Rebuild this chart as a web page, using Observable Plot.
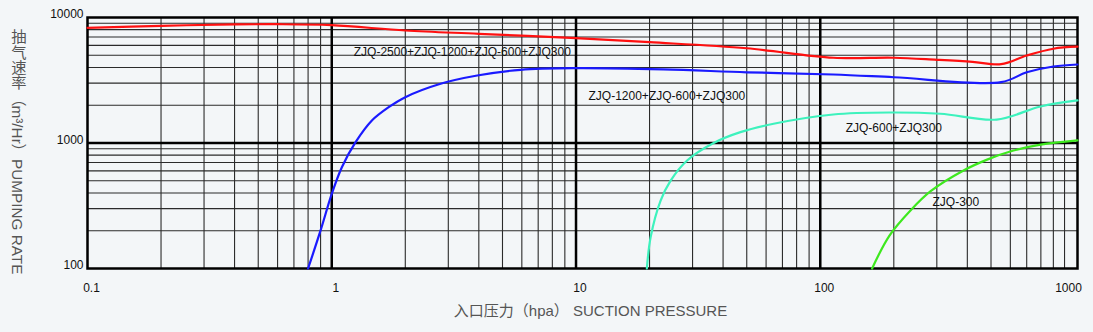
<!DOCTYPE html>
<html><head><meta charset="utf-8">
<script src="https://cdn.jsdelivr.net/npm/d3@7"></script>
<script src="https://cdn.jsdelivr.net/npm/@observablehq/plot@0.6"></script>
<style>
html,body{margin:0;padding:0;background:#f3f6f8;}
#chart{position:relative;width:1093px;height:332px;}
#ytitle{position:absolute;left:9px;top:29px;writing-mode:vertical-rl;font-family:Arial,'Liberation Sans','Noto Sans CJK SC',sans-serif;font-size:15.3px;line-height:17px;color:#555;white-space:nowrap;}
</style></head><body><div id="chart"></div>
<script>
// Axis ticks
const xTickValues = [0.1, 1, 10, 100, 1000];
const xTickLabels = ["0.1", "1", "10", "100", "1000"];
const yTickValues = [100, 1000, 10000];
const yTickLabels = ["100", "1000", "10000"];
const xTitle = "入口压力（hpa） SUCTION PRESSURE";
const yTitle = "抽气速率（m³/Hr）PUMPING RATE";

// Series: suction pressure (hPa) vs pumping rate (m³/h)
const seriesNames = ["ZJQ-2500+ZJQ-1200+ZJQ-600+ZJQ300", "ZJQ-1200+ZJQ-600+ZJQ300", "ZJQ-600+ZJQ300", "ZJQ-300"];
const redX = [0.1, 0.2, 0.4, 0.6, 1, 2, 4, 10, 20, 50, 113, 200, 300, 420, 550, 700, 900, 1130];
const redY = [8280, 8590, 8800, 8840, 8680, 7880, 7410, 6840, 6360, 5690, 4780, 4780, 4600, 4430, 4250, 4980, 5640, 5850];
const blueX = [0.8, 0.9, 1.0, 1.1, 1.25, 1.46, 1.71, 2.0, 2.79, 3.94, 5.93, 10, 22.8, 50, 113, 200, 550, 700, 900, 1130];
const blueY = [100, 201, 393, 641, 1010, 1510, 1928, 2318, 2965, 3450, 3830, 3945, 3855, 3660, 3515, 3340, 3052, 3660, 4070, 4222];
const cyanX = [19.5, 20.2, 22.2, 24.4, 28.5, 36.6, 47.1, 64.4, 113, 192, 310, 527, 798, 1130];
const cyanY = [100, 177, 348, 502, 726, 1000, 1220, 1423, 1687, 1750, 1710, 1537, 1955, 2183];
const greenX = [163, 192, 234, 283, 386, 482, 618, 798, 1130];
const greenY = [100, 183, 290, 413, 604, 737, 871, 972, 1050];
const seriesColors = ["#ff1010", "#1a1aff", "#3df2bd", "#3ee81f"];

// Curve label anchors (data units)
const labelX = [1.23, 11.25, 127, 288];
const labelY = [5260, 2347, 1305, 336];

const toRows = (xs, ys) => xs.map((x, i) => ({x, y: ys[i]}));
const seriesRows = [toRows(redX, redY), toRows(blueX, blueY), toRows(cyanX, cyanY), toRows(greenX, greenY)];

// grid values (1..9 per decade)
const xMinor = [];
for (const d of [0.1, 1, 10, 100]) for (let k = 1; k <= 9; k++) xMinor.push(+(k * d).toPrecision(3));
xMinor.push(1000);
const yMinor = [];
for (const d of [100, 1000]) for (let k = 1; k <= 9; k++) yMinor.push(k * d);
const xMajor = [1, 10, 100];
const yMajor = [1000];

const font = "Arial, 'Liberation Sans', Helvetica, 'Noto Sans CJK SC', sans-serif";

const plot = Plot.plot({
  width: 1093, height: 332,
  marginLeft: 87, marginRight: 16, marginTop: 17, marginBottom: 64,
  style: {background: "#f3f6f8", fontFamily: font, fontSize: "12px", color: "#111"},
  x: {type: "log", domain: [0.1, 1130], axis: null},
  y: {type: "log", domain: [100, 10000], axis: null},
  marks: [
    Plot.ruleX(xMinor, {stroke: "#2b2b2b", strokeWidth: 1.1}),
    Plot.ruleY(yMinor, {stroke: "#2b2b2b", strokeWidth: 1.1}),
    Plot.ruleX(xMajor, {stroke: "#000", strokeWidth: 2.5}),
    Plot.ruleY(yMajor, {stroke: "#000", strokeWidth: 2.5}),
    Plot.frame({stroke: "#000", strokeWidth: 2.5}),
    ...seriesRows.map((rows, i) => Plot.line(rows, {x: "x", y: "y", stroke: seriesColors[i], strokeWidth: 2.2, curve: "catmull-rom"})),
    Plot.text(seriesNames, {x: (d, i) => labelX[i], y: (d, i) => labelY[i], text: d => d, textAnchor: "start", fill: "#111", fontSize: 12}),
    Plot.text(xTickValues, {x: d => d, frameAnchor: "bottom", dy: 23, dx: 4, text: (d, i) => xTickLabels[i], fill: "#111", fontSize: 12}),
    Plot.text(yTickValues, {y: d => d, frameAnchor: "left", textAnchor: "end", dx: -4, dy: -3, text: (d, i) => yTickLabels[i], fill: "#111", fontSize: 12}),
    Plot.text([xTitle], {frameAnchor: "bottom", dy: 47, dx: 8, text: d => d, fill: "#555", fontSize: 15})
  ]
});
const chart = document.getElementById("chart");
chart.appendChild(plot);
const yt = document.createElement("div");
yt.id = "ytitle";
yt.textContent = yTitle;
chart.appendChild(yt);
</script>
</body></html>
